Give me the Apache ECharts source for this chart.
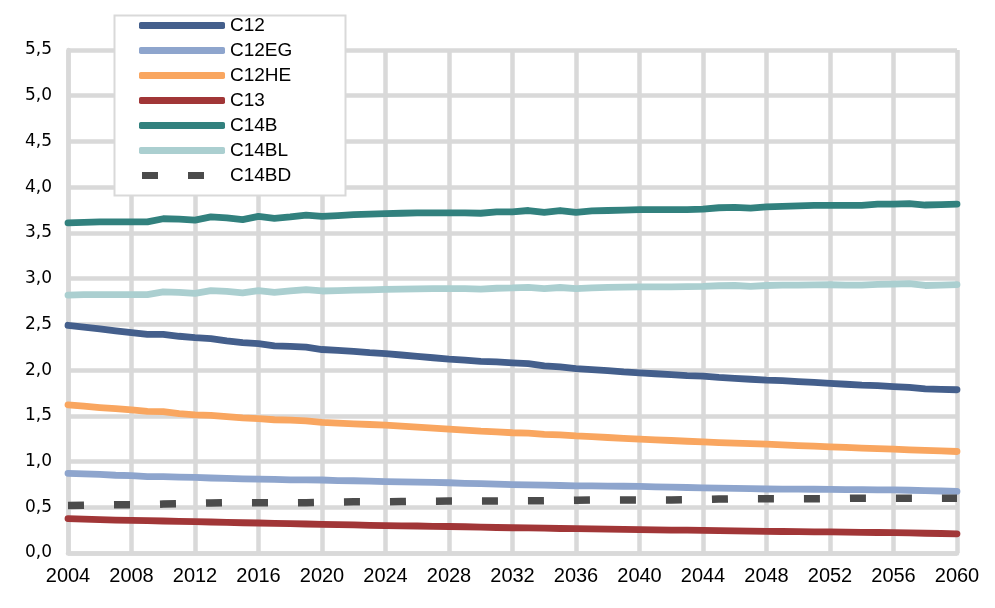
<!DOCTYPE html>
<html>
<head>
<meta charset="utf-8">
<script src="https://cdn.jsdelivr.net/npm/echarts@6/dist/echarts.min.js"></script>
<style>
  html, body { margin: 0; padding: 0; background: #ffffff; }
  #chart { width: 995px; height: 608px; }
</style>
</head>
<body>
<div id="chart"></div>
<script>
// Years 2004 to 2060, one value per year for each scenario
const years = [];
for (let y = 2004; y <= 2060; y++) years.push(y);

const seriesNames = ['C12', 'C12EG', 'C12HE', 'C13', 'C14B', 'C14BL', 'C14BD'];

const c12 = [
  2.49, 2.47, 2.45, 2.43, 2.41, 2.39, 2.39, 2.37, 2.355, 2.345,
  2.32, 2.30, 2.29, 2.265, 2.26, 2.25, 2.225, 2.215, 2.205, 2.19,
  2.18, 2.165, 2.15, 2.135, 2.12, 2.11, 2.095, 2.09, 2.08, 2.07,
  2.045, 2.035, 2.015, 2.005, 1.995, 1.98, 1.97, 1.96, 1.95, 1.94,
  1.935, 1.92, 1.91, 1.90, 1.89, 1.885, 1.875, 1.865, 1.855, 1.845,
  1.835, 1.83, 1.82, 1.81, 1.795, 1.79, 1.785
];

const c12eg = [
  0.87, 0.865, 0.86, 0.85, 0.845, 0.835, 0.835, 0.83, 0.826, 0.82,
  0.815, 0.81, 0.808, 0.805, 0.80, 0.80, 0.798, 0.792, 0.79, 0.785,
  0.78, 0.778, 0.775, 0.772, 0.768, 0.762, 0.758, 0.752, 0.748, 0.745,
  0.742, 0.738, 0.735, 0.733, 0.731, 0.73, 0.728, 0.724, 0.72, 0.716,
  0.713, 0.71, 0.707, 0.703, 0.70, 0.699, 0.698, 0.697, 0.695, 0.694,
  0.693, 0.691, 0.69, 0.686, 0.682, 0.678, 0.674
];

const c12he = [
  1.62, 1.605, 1.59, 1.578, 1.565, 1.548, 1.545, 1.525, 1.51, 1.505,
  1.49, 1.478, 1.47, 1.457, 1.452, 1.445, 1.428, 1.42, 1.412, 1.405,
  1.398, 1.387, 1.376, 1.365, 1.355, 1.343, 1.332, 1.325, 1.315, 1.31,
  1.298, 1.292, 1.28, 1.272, 1.263, 1.254, 1.245, 1.237, 1.23, 1.222,
  1.215, 1.208, 1.202, 1.196, 1.19, 1.183, 1.175, 1.168, 1.16, 1.154,
  1.147, 1.141, 1.135, 1.128, 1.122, 1.116, 1.11
];

const c13 = [
  0.375, 0.37, 0.365, 0.36, 0.357, 0.353, 0.35, 0.345, 0.342, 0.339,
  0.335, 0.331, 0.328, 0.325, 0.321, 0.317, 0.313, 0.31, 0.307, 0.303,
  0.30, 0.297, 0.295, 0.292, 0.29, 0.287, 0.283, 0.279, 0.276, 0.274,
  0.271, 0.268, 0.266, 0.263, 0.26, 0.258, 0.255, 0.253, 0.251, 0.25,
  0.248, 0.245, 0.243, 0.24, 0.237, 0.235, 0.233, 0.232, 0.23, 0.228,
  0.226, 0.224, 0.222, 0.219, 0.216, 0.213, 0.21
];

const c14b = [
  3.61, 3.615, 3.62, 3.62, 3.62, 3.62, 3.655, 3.65, 3.64, 3.675,
  3.665, 3.645, 3.68, 3.66, 3.675, 3.695, 3.68, 3.69, 3.70, 3.705,
  3.71, 3.715, 3.72, 3.72, 3.72, 3.72, 3.715, 3.73, 3.73, 3.745,
  3.725, 3.745, 3.725, 3.74, 3.745, 3.75, 3.755, 3.755, 3.755, 3.755,
  3.76, 3.775, 3.78, 3.77, 3.785, 3.79, 3.795, 3.80, 3.80, 3.80,
  3.80, 3.815, 3.815, 3.82, 3.805, 3.81, 3.815
];

const c14bl = [
  2.82, 2.825, 2.825, 2.825, 2.825, 2.825, 2.855, 2.85, 2.838, 2.868,
  2.86, 2.845, 2.87, 2.85, 2.865, 2.88, 2.865, 2.87, 2.875, 2.878,
  2.882, 2.885, 2.888, 2.89, 2.89, 2.89, 2.885, 2.895, 2.898, 2.905,
  2.89, 2.903, 2.89, 2.90, 2.905, 2.908, 2.91, 2.91, 2.91, 2.912,
  2.915, 2.922, 2.925, 2.915, 2.925, 2.928, 2.93, 2.932, 2.933, 2.93,
  2.928, 2.938, 2.94, 2.945, 2.925, 2.93, 2.935
];

const c14bd = [
  0.52, 0.522, 0.525, 0.527, 0.527, 0.53, 0.535, 0.538, 0.542, 0.547,
  0.549, 0.549, 0.549, 0.549, 0.549, 0.55, 0.553, 0.558, 0.56, 0.56,
  0.56, 0.562, 0.565, 0.567, 0.568, 0.568, 0.568, 0.568, 0.569, 0.57,
  0.572, 0.575, 0.578, 0.58, 0.58, 0.58, 0.58, 0.58, 0.58, 0.582,
  0.585, 0.59, 0.593, 0.593, 0.593, 0.593, 0.593, 0.594, 0.595, 0.597,
  0.60, 0.60, 0.60, 0.60, 0.60, 0.60, 0.60
];

const colors = {
  C12: '#445f8c',
  C12EG: '#8ea5cd',
  C12HE: '#f9a660',
  C13: '#a13637',
  C14B: '#32817e',
  C14BL: '#abcfd0',
  C14BD: '#4b4b4b'
};

const valuesByName = {
  C12: c12, C12EG: c12eg, C12HE: c12he, C13: c13,
  C14B: c14b, C14BL: c14bl, C14BD: c14bd
};

const gridColor = '#d9d9d9';
const font = '"Liberation Sans", Arial, sans-serif';

// Legend keys: a thick rounded bar for solid lines, two short dashes for the dashed one
const solidIcon = 'roundRect';
const dashIcon = 'path://M0,0 M86,7 M3,0 L19,0 L19,7 L3,7 Z M49,0 L65,0 L65,7 L49,7 Z';

function pairs(vals) {
  return years.map((y, i) => [y, vals[i]]);
}

const series = seriesNames.map(name => {
  const dashed = name === 'C14BD';
  return {
    name: name,
    type: 'line',
    data: pairs(valuesByName[name]),
    symbol: 'none',
    smooth: false,
    color: colors[name],
    itemStyle: { color: colors[name] },
    lineStyle: {
      color: colors[name],
      width: dashed ? 7.5 : 6.8,
      type: dashed ? [16, 30] : 'solid',
      cap: dashed ? 'butt' : 'round',
      join: 'round'
    },
    emphasis: { disabled: true },
    z: 2
  };
});

const chart = echarts.init(document.getElementById('chart'), null, { renderer: 'canvas' });

chart.setOption({
  animation: false,
  backgroundColor: '#ffffff',
  grid: { left: 68, right: 38, top: 50, bottom: 55, containLabel: false },
  xAxis: {
    type: 'value',
    min: 2004,
    max: 2060,
    interval: 4,
    axisLine: { show: true, lineStyle: { color: gridColor, width: 4.5 } },
    axisTick: { show: false },
    splitLine: { show: true, lineStyle: { color: gridColor, width: 4.5 } },
    axisLabel: {
      color: '#000000',
      fontFamily: font,
      fontSize: 20,
      margin: 13,
      formatter: v => String(v)
    }
  },
  yAxis: {
    type: 'value',
    min: 0,
    max: 5.5,
    interval: 0.5,
    axisLine: { show: true, lineStyle: { color: gridColor, width: 4.5 } },
    axisTick: { show: false },
    splitLine: { show: true, lineStyle: { color: gridColor, width: 4.5 } },
    axisLabel: {
      color: '#000000',
      fontFamily: '"DejaVu Sans", sans-serif',
      fontSize: 17,
      margin: 16,
      formatter: v => v.toFixed(1).replace('.', ',')
    }
  },
  graphic: [{
    type: 'rect',
    z: 100,
    shape: { x: 114.5, y: 15.5, width: 231, height: 180 },
    style: { fill: '#ffffff', stroke: gridColor, lineWidth: 2 }
  }],
  legend: {
    show: true,
    z: 200,
    orient: 'vertical',
    left: 139,
    top: 16,
    padding: 0,
    itemGap: 6,
    itemWidth: 86,
    itemHeight: 7,
    selectedMode: false,
    data: seriesNames.map(name => ({
      name: name,
      icon: name === 'C14BD' ? dashIcon : solidIcon,
      itemStyle: { color: colors[name], borderWidth: 0 }
    })),
    textStyle: {
      color: '#000000',
      fontFamily: font,
      fontSize: 19,
      lineHeight: 19,
      padding: [0, 0, 0, 0]
    }
  },
  series: series
});
</script>
</body>
</html>
